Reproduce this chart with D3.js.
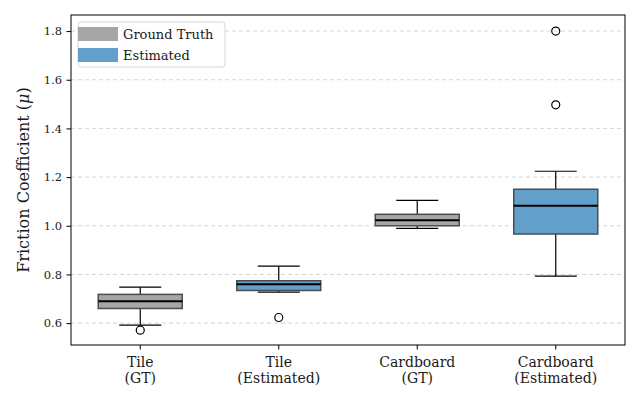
<!DOCTYPE html>
<html>
<head>
<meta charset="utf-8">
<script src="https://cdn.jsdelivr.net/npm/d3@7"></script>
<style>
  body { margin: 0; background: #fff; }
  text { font-family: "DejaVu Serif", serif; }
</style>
</head>
<body>
<div id="chart-area"></div>
<script>
// box stats
const categories = ["Tile\n(GT)", "Tile\n(Estimated)", "Cardboard\n(GT)", "Cardboard\n(Estimated)"];
const kinds = ["gt", "est", "gt", "est"];
const q1 = [0.660, 0.734, 1.000, 0.966];
const median = [0.690, 0.760, 1.023, 1.082];
const q3 = [0.718, 0.774, 1.047, 1.150];
const whiskerLow = [0.592, 0.727, 0.989, 0.793];
const whiskerHigh = [0.748, 0.834, 1.104, 1.224];
const outliers = [[0.571], [0.623], [], [1.497, 1.800]];
const yTicks = [0.6, 0.8, 1.0, 1.2, 1.4, 1.6, 1.8];
const legendLabels = ["Ground Truth", "Estimated"];

const gtColor = '#a6a6a6';
const estColor = '#62a0ca';
const edgeColor = '#4d4d4d';

const width = 640, height = 400;
const margin = {top: 15, right: 15, bottom: 55, left: 71};

const svg = d3.select("#chart-area").append("svg")
  .attr("width", width)
  .attr("height", height);

const x = d3.scaleBand()
  .domain(d3.range(categories.length))
  .range([margin.left, width - margin.right])
  .paddingInner(0.4)
  .paddingOuter(0.2);

const y = d3.scaleLinear()
  .domain([0.51, 1.866])
  .range([height - margin.bottom, margin.top]);

// grid
svg.append("g")
  .selectAll("line")
  .data(yTicks)
  .enter().append("line")
  .attr("x1", margin.left)
  .attr("x2", width - margin.right)
  .attr("y1", d => y(d))
  .attr("y2", d => y(d))
  .attr("stroke", "#cccccc")
  .attr("stroke-width", 0.8)
  .attr("stroke-dasharray", "4,3");

const bw = 84;
const capW = 42;
const cx = i => x(i) + x.bandwidth() / 2;

const boxes = svg.append("g").selectAll("g")
  .data(categories.map((c, i) => i))
  .enter().append("g");

// whiskers
boxes.append("line")
  .attr("x1", cx).attr("x2", cx)
  .attr("y1", i => y(q3[i])).attr("y2", i => y(whiskerHigh[i]))
  .attr("stroke", "#000").attr("stroke-width", 1.2);
boxes.append("line")
  .attr("x1", cx).attr("x2", cx)
  .attr("y1", i => y(q1[i])).attr("y2", i => y(whiskerLow[i]))
  .attr("stroke", "#000").attr("stroke-width", 1.2);
boxes.append("line")
  .attr("x1", i => cx(i) - capW / 2).attr("x2", i => cx(i) + capW / 2)
  .attr("y1", i => y(whiskerHigh[i])).attr("y2", i => y(whiskerHigh[i]))
  .attr("stroke", "#000").attr("stroke-width", 1.2);
boxes.append("line")
  .attr("x1", i => cx(i) - capW / 2).attr("x2", i => cx(i) + capW / 2)
  .attr("y1", i => y(whiskerLow[i])).attr("y2", i => y(whiskerLow[i]))
  .attr("stroke", "#000").attr("stroke-width", 1.2);

// box
boxes.append("rect")
  .attr("x", i => cx(i) - bw / 2)
  .attr("width", bw)
  .attr("y", i => y(q3[i]))
  .attr("height", i => y(q1[i]) - y(q3[i]))
  .attr("fill", i => kinds[i] == "gt" ? gtColor : estColor)
  .attr("stroke", edgeColor)
  .attr("stroke-width", 1.5);

// median
boxes.append("line")
  .attr("x1", i => cx(i) - bw / 2).attr("x2", i => cx(i) + bw / 2)
  .attr("y1", i => y(median[i])).attr("y2", i => y(median[i]))
  .attr("stroke", "#000").attr("stroke-width", 2);

// fliers
boxes.selectAll("circle")
  .data(i => outliers[i].map(v => ({i: i, v: v})))
  .enter().append("circle")
  .attr("cx", d => cx(d.i))
  .attr("cy", d => y(d.v))
  .attr("r", 4)
  .attr("fill", "none")
  .attr("stroke", "#000")
  .attr("stroke-width", 1.2);

// frame
svg.append("rect")
  .attr("x", margin.left).attr("y", margin.top)
  .attr("width", width - margin.left - margin.right)
  .attr("height", height - margin.top - margin.bottom)
  .attr("fill", "none")
  .attr("stroke", "#000")
  .attr("stroke-width", 1);

// y axis
const yAxis = svg.append("g")
  .attr("transform", `translate(${margin.left},0)`)
  .call(d3.axisLeft(y).tickValues(yTicks).tickFormat(d3.format(".1f")).tickSize(4.5).tickPadding(4.5));
yAxis.select(".domain").remove();
yAxis.attr("font-size", null).attr("font-family", null);
yAxis.selectAll("text").style("font-size", "11.5px").attr("fill", "#1a1a1a");

// x axis
const xAxis = svg.append("g")
  .attr("transform", `translate(0,${height - margin.bottom})`)
  .call(d3.axisBottom(x).tickSize(4.5).tickFormat(""));
xAxis.select(".domain").remove();

const xl = svg.append("g").selectAll("text")
  .data(categories.map((c, i) => i))
  .enter().append("text")
  .attr("x", cx)
  .attr("y", height - margin.bottom + 22)
  .attr("text-anchor", "middle")
  .style("font-size", "14px")
  .attr("fill", "#1a1a1a");
xl.selectAll("tspan")
  .data(i => categories[i].split("\n").map(s => ({s: s, i: i})))
  .enter().append("tspan")
  .attr("x", d => cx(d.i))
  .attr("dy", (d, j) => j == 0 ? 0 : 16)
  .text(d => d.s);

// y label
const yl = svg.append("text")
  .attr("transform", `translate(29,${(margin.top + height - margin.bottom) / 2}) rotate(-90)`)
  .attr("text-anchor", "middle")
  .style("font-size", "16px")
  .attr("fill", "#1a1a1a");
yl.append("tspan").text("Friction Coefficient (");
yl.append("tspan").style("font-style", "italic").text("μ");
yl.append("tspan").text(")");

// legend
const lg = svg.append("g").attr("transform", "translate(78,22)");
lg.append("rect")
  .attr("width", 147).attr("height", 45).attr("rx", 3)
  .attr("fill", "#fff").attr("fill-opacity", 0.8)
  .attr("stroke", "#d6d6d6");
legendLabels.forEach((l, i) => {
  lg.append("rect")
    .attr("x", 0).attr("y", 5 + i * 21)
    .attr("width", 40).attr("height", 14)
    .attr("fill", i == 0 ? gtColor : estColor);
  lg.append("text")
    .attr("x", 45).attr("y", 17 + i * 21)
    .style("font-size", "13px")
    .attr("fill", "#1a1a1a")
    .text(l);
});
</script>
</body>
</html>
